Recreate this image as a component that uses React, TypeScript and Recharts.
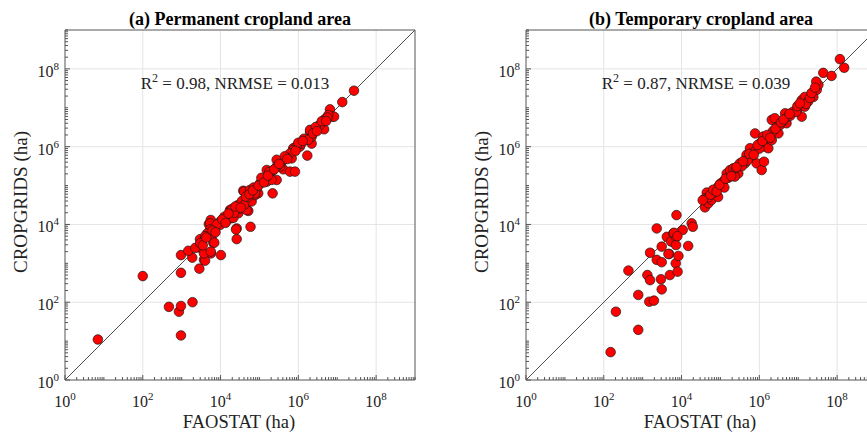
import { ScatterChart, Scatter, XAxis, YAxis, CartesianGrid, ReferenceLine } from "recharts"

// log axes, 10^0 .. 10^9
const majorTicks = [1, 1e2, 1e4, 1e6, 1e8]
const decades = [1, 1e1, 1e2, 1e3, 1e4, 1e5, 1e6, 1e7, 1e8]
const minorSteps = [1, 2, 3, 4, 5, 6, 7, 8, 9]
const allTicks = [...decades.flatMap((d) => minorSteps.map((m) => m * d)), 1e9]
const gridValues = [1e2, 1e4, 1e6, 1e8]

// (a) permanent cropland, FAOSTAT vs CROPGRIDS (ha)
const permanentFao = [
  7, 100, 470, 850, 960, 960, 1900, 960, 960, 2850, 1870, 1480, 3740, 5660, 10200, 26000, 26000, 59000,
  2950, 3240, 6500, 5130, 5600, 5000, 9700, 17500, 18600, 28600, 38400, 51700, 47000, 93000, 218000,
  154000, 154000, 277000, 373000, 410000, 610000, 820000, 675000, 740000, 1.1e6, 1.7e6, 1.4e6, 2.0e6,
  2.2e6, 3.3e6, 4.6e6, 4.8e6, 6.5e6, 7.6e6, 1.35e7, 2.7e7, 2700, 3250, 2950, 4000, 3740, 5370, 5370,
  4570, 5900, 6900, 5600, 9700, 14400, 17500, 25000, 21300, 31600, 40000, 47000, 63000, 77000, 85000,
  8.3e6, 5.9e6, 3.6e6, 2.7e6, 2.0e6, 2.2e6, 1.8e6, 1.2e6, 9.1e5, 7.4e5, 6.1e5, 5.0e5, 3.4e5, 2.77e5,
  2.27e5, 1.86e5, 2.05e5, 1.4e5, 1.03e5, 7.7e4, 5.7e4, 12600, 20000, 28200, 35500, 50000, 70800,
  112000, 178000, 282000, 447000, 1e6, 2.8e6, 4e6, 5.6e6, 40000, 22400, 8000, 4000, 2240,
  3000, 3500, 4300, 6200, 7400, 11000, 13500, 16000, 24000, 33000, 45000, 55000, 68000, 95000, 130000,
  165000, 240000, 320000, 520000, 850000, 1.3e6, 2.4e6, 3.0e6, 5.2e6,
]
const permanentCrop = [
  11, 470, 76, 57, 80, 14, 100, 1630, 570, 730, 1400, 2100, 1230, 1800, 1630, 7900, 4200, 8700,
  2700, 4000, 3400, 5900, 13000, 10200, 11700, 23600, 14400, 19400, 73600, 22300, 35000, 63000, 63000,
  126000, 251000, 139000, 410000, 262000, 228000, 228000, 500000, 910000, 1.0e6, 5.9e5, 1.6e6, 2.4e6,
  1.2e6, 3.4e6, 2.8e6, 5.1e6, 9.1e6, 5.9e6, 1.4e7, 2.75e7, 2570, 3650, 4150, 1170, 1800, 10700, 7400,
  5900, 4800, 3400, 2000, 9700, 13000, 21300, 7400, 14800, 25700, 70000, 23400, 39000, 57000, 84000,
  5.9e6, 6.5e6, 3.6e6, 2.8e6, 2.7e6, 1.8e6, 1.5e6, 1.2e6, 1.05e6, 8.1e5, 6.7e5, 5.3e5, 3.1e5, 4.6e5,
  2.5e5, 2.05e5, 1.4e5, 1.5e5, 1.13e5, 6.3e4, 7.7e4, 15800, 25100, 31600, 40000, 50000, 89000,
  158000, 224000, 316000, 562000, 1.26e6, 3.2e6, 4.5e6, 5.6e6, 31600, 20000, 10000, 5000, 2500,
  3300, 2900, 4600, 7000, 6300, 13500, 11000, 19000, 29000, 27000, 52000, 60000, 75000, 100000, 120000,
  180000, 260000, 360000, 480000, 780000, 1.4e6, 2.2e6, 2.5e6, 4.6e6,
]

// (b) temporary cropland
const temporaryFao = [
  150, 205, 770, 430, 770, 1480, 1950, 1320, 1550, 1550, 2300, 2300, 3090, 3090, 2950, 3090, 4170, 4800,
  5000, 5370, 6170, 7200, 7400, 7200, 7100, 8300, 7900, 10700, 14800, 18200, 19500, 40000, 44500, 40000,
  49000, 59000, 72000, 87000, 87000, 117000, 145000, 178000, 214000, 288000, 234000, 316000, 427000,
  468000, 631000, 575000, 776000, 851000, 1.05e6, 1.15e6, 1.32e6, 1.26e6, 1.41e6, 1.7e6, 2.09e6, 2.09e6,
  2.5e6, 3.1e6, 2.8e6, 3.4e6, 5.0e6, 4.6e6, 5.5e6, 7.4e6, 1.0e7, 1.23e7, 1.23e7, 1.48e7, 1.48e7, 1.8e7,
  2.45e7, 3.0e7, 3.3e7, 2.9e7, 4.4e7, 7.2e7, 1.18e8, 1.52e8, 6400, 7800, 4600, 63000, 100000, 158000,
  251000, 355000, 500000, 708000, 1.0e6, 1.58e6, 2.24e6, 3.98e6, 6.3e6, 8.9e6, 1.58e7, 2.0e7, 126000, 50000,
  35000, 55000, 65000, 80000, 95000, 135000, 190000, 260000, 380000, 550000, 720000, 900000, 1.2e6,
  1.6e6, 1.9e6, 2.6e6, 3.6e6, 4.2e6, 6.0e6, 9.5e6, 1.1e7, 2.2e7, 2.7e7,
]
const temporaryCrop = [
  5.2, 57, 19.5, 650, 154, 103, 110, 500, 370, 1870, 7900, 1230, 1070, 2690, 390, 214, 4800, 1740,
  500, 3630, 5900, 4800, 17400, 2950, 1000, 1550, 610, 7200, 2800, 10700, 8700, 27500, 66000, 47000,
  35000, 42600, 77000, 51000, 93000, 126000, 205000, 251000, 277000, 205000, 170000, 372000, 372000,
  616000, 550000, 910000, 2.19e6, 372000, 1.23e6, 251000, 410000, 1.82e6, 1.0e6, 910000, 1.48e6, 4.9e6,
  5.4e6, 2.2e6, 3.2e6, 3.6e6, 4.0e6, 7.2e6, 5.9e6, 7.9e6, 9.8e6, 5.9e6, 1.58e7, 1.9e7, 1.07e7, 1.45e7,
  1.9e7, 2.9e7, 3.9e7, 4.7e7, 7.9e7, 6.6e7, 1.78e8, 1.07e8, 6100, 5000, 1740, 63000, 112000, 158000,
  282000, 316000, 447000, 708000, 891000, 1.78e6, 2.51e6, 4.47e6, 6.3e6, 7.9e6, 1.26e7, 1.78e7, 89000, 50000,
  42000, 58000, 78000, 70000, 105000, 150000, 175000, 300000, 420000, 650000, 620000, 1.1e6, 1.4e6,
  2.0e6, 1.7e6, 2.9e6, 4.2e6, 5.0e6, 7.0e6, 1.1e7, 1.3e7, 2.4e7, 3.3e7,
]

const SERIF = "'Liberation Serif', 'Times New Roman', serif"
const AXIS = "#555"
const PLOT_LEFT = 65
const PLOT_TOP = 30
const PLOT_SIZE = 350
const W = 430
const H = 433

function makeTick(side: "bottom" | "top" | "left" | "right") {
  return function Tick(props: any) {
    const { x, y, payload } = props
    const v = payload.value
    const major = majorTicks.includes(v)
    const len = major ? 5 : 3
    const exp = Math.round(Math.log10(v))
    let line = null
    let label = null
    if (side === "bottom") {
      line = <line x1={x} y1={y} x2={x} y2={y - len} stroke={AXIS} />
      if (major)
        label = (
          <text x={x} y={y + 27} textAnchor="middle" fontSize={16} fill="#222" fontFamily={SERIF}>
            10<tspan dy={-7} fontSize={11}>{exp}</tspan>
          </text>
        )
    } else if (side === "top") {
      line = <line x1={x} y1={y} x2={x} y2={y + len} stroke={AXIS} />
    } else if (side === "left") {
      line = <line x1={x} y1={y} x2={x + len} y2={y} stroke={AXIS} />
      if (major)
        label = (
          <text x={x - 6} y={y + 8} textAnchor="end" fontSize={16} fill="#222" fontFamily={SERIF}>
            10<tspan dy={-7} fontSize={11}>{exp}</tspan>
          </text>
        )
    } else {
      line = <line x1={x} y1={y} x2={x - len} y2={y} stroke={AXIS} />
    }
    return (
      <g>
        {line}
        {label}
      </g>
    )
  }
}

const Dot = (p: any) => (
  <circle cx={p.cx} cy={p.cy} r={4.8} fill="#ff0000" stroke="#1a1a1a" strokeWidth={0.7} />
)

function Panel({
  left,
  title,
  r2,
  nrmse,
  fao,
  crop,
}: {
  left: number
  title: string
  r2: string
  nrmse: string
  fao: number[]
  crop: number[]
}) {
  const data = fao.map((x, i) => ({ fao: x, crop: crop[i] }))
  const cx = PLOT_LEFT + PLOT_SIZE / 2
  // axes take 1px each, so margins are one less
  return (
    <div style={{ position: "absolute", left, top: 0, width: W, height: H }}>
      <ScatterChart
        width={W}
        height={H}
        margin={{
          top: PLOT_TOP - 1,
          right: W - PLOT_LEFT - PLOT_SIZE - 1,
          bottom: H - PLOT_TOP - PLOT_SIZE - 1,
          left: PLOT_LEFT - 1,
        }}
      >
        <CartesianGrid stroke="#e4e4e4" verticalValues={gridValues} horizontalValues={gridValues} />
        <XAxis
          dataKey="fao"
          type="number"
          scale="log"
          domain={[1, 1e9]}
          ticks={allTicks}
          interval={0}
          height={1}
          tickSize={0}
          tickMargin={0}
          tickLine={false}
          axisLine={{ stroke: AXIS }}
          tick={makeTick("bottom")}
        />
        <XAxis
          xAxisId="top"
          orientation="top"
          type="number"
          scale="log"
          domain={[1, 1e9]}
          ticks={allTicks}
          interval={0}
          height={1}
          tickSize={0}
          tickMargin={0}
          tickLine={false}
          axisLine={{ stroke: AXIS }}
          tick={makeTick("top")}
        />
        <YAxis
          dataKey="crop"
          type="number"
          scale="log"
          domain={[1, 1e9]}
          ticks={allTicks}
          interval={0}
          width={1}
          tickSize={0}
          tickMargin={0}
          tickLine={false}
          axisLine={{ stroke: AXIS }}
          tick={makeTick("left")}
        />
        <YAxis
          yAxisId="right"
          orientation="right"
          type="number"
          scale="log"
          domain={[1, 1e9]}
          ticks={allTicks}
          interval={0}
          width={1}
          tickSize={0}
          tickMargin={0}
          tickLine={false}
          axisLine={{ stroke: AXIS }}
          tick={makeTick("right")}
        />
        <Scatter data={data} shape={Dot} isAnimationActive={false} />
        <ReferenceLine
          segment={[
            { x: 1, y: 1 },
            { x: 1e9, y: 1e9 },
          ]}
          stroke="#222"
          strokeWidth={0.8}
        />
      </ScatterChart>
      <svg
        width={W}
        height={H}
        style={{ position: "absolute", left: 0, top: 0, pointerEvents: "none" }}
        fontFamily={SERIF}
        fill="#222"
      >
        <text x={cx} y={25} textAnchor="middle" fontSize={18} fontWeight="bold" fill="#000">
          {title}
        </text>
        <text x={235} y={89} textAnchor="middle" fontSize={17}>
          R<tspan dy={-7} fontSize={12}>2</tspan>
          <tspan dy={7}>{` = ${r2}, NRMSE = ${nrmse}`}</tspan>
        </text>
        <text x={cx - 1} y={428} textAnchor="middle" fontSize={18.5}>
          FAOSTAT (ha)
        </text>
        <text x={27} y={202} textAnchor="middle" fontSize={19} transform="rotate(-90 27 202)">
          CROPGRIDS (ha)
        </text>
      </svg>
    </div>
  )
}

export default function App() {
  return (
    <div
      style={{
        position: "fixed",
        left: 0,
        top: 0,
        width: 867,
        height: 433,
        overflow: "hidden",
        background: "#fff",
      }}
    >
      <Panel
        left={0}
        title="(a) Permanent cropland area"
        r2="0.98"
        nrmse="0.013"
        fao={permanentFao}
        crop={permanentCrop}
      />
      <Panel
        left={461}
        title="(b) Temporary cropland area"
        r2="0.87"
        nrmse="0.039"
        fao={temporaryFao}
        crop={temporaryCrop}
      />
    </div>
  )
}
